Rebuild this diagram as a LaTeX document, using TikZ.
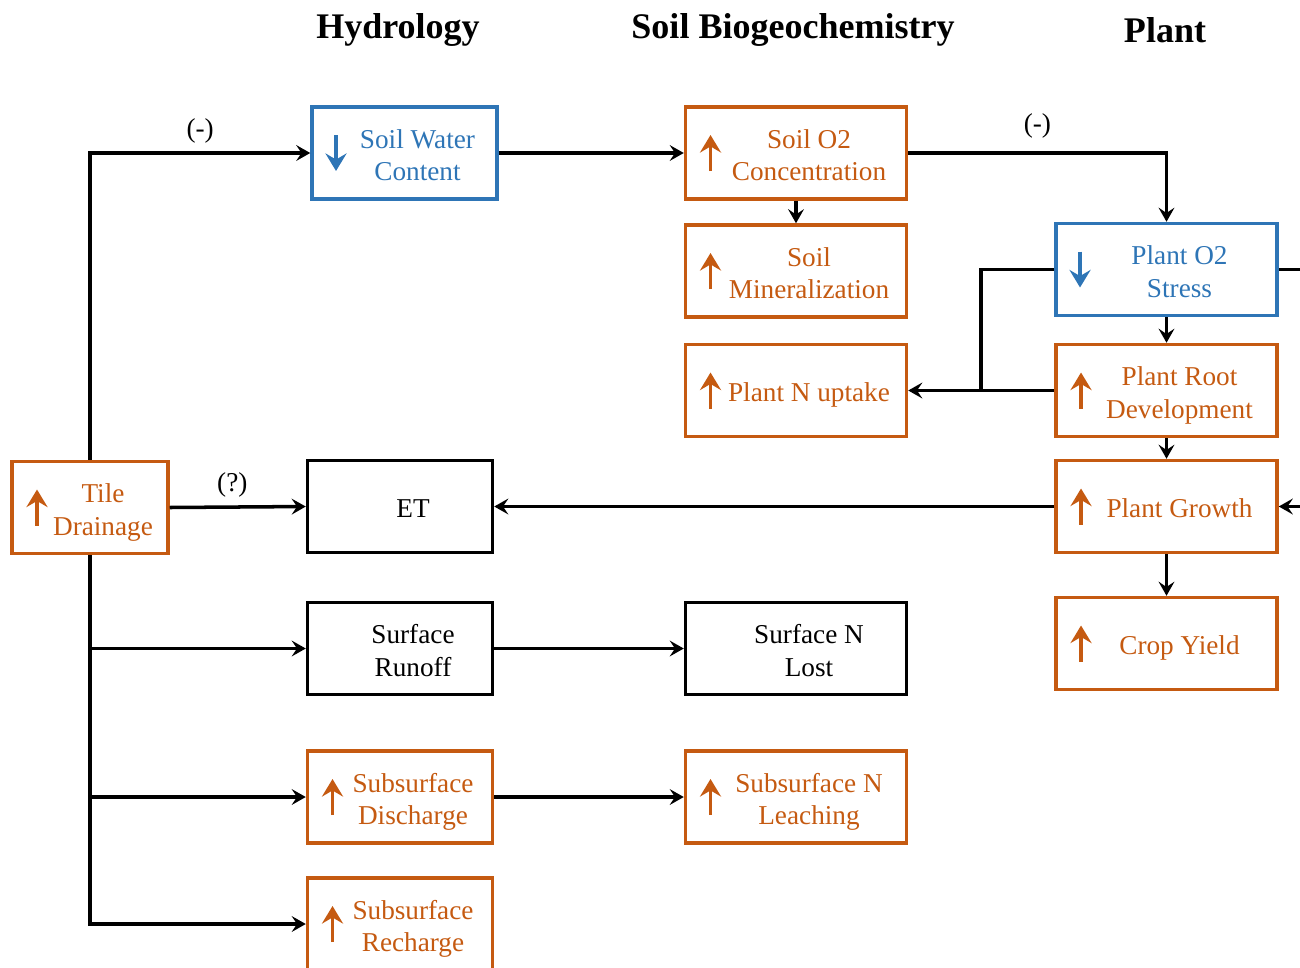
\documentclass[tikz,border=0pt]{standalone}
\usepackage{fontspec}
\setmainfont{Liberation Serif}
\usetikzlibrary{arrows.meta}
\definecolor{rust}{HTML}{C55A11}
\definecolor{steel}{HTML}{2E75B6}
\newcommand{\boxlabel}[1]{\raisebox{0pt}[\dimexpr\height+5.6pt\relax][\depth]{%
  \hspace*{0.52cm}\begin{tabular}{@{}c@{}}#1\end{tabular}}}

\begin{document}
\begin{tikzpicture}[x=0.02cm, y=-0.02cm,
  tip/.tip={Stealth[length=8pt, width=9pt, inset=3pt]},
  icontip/.tip={Stealth[length=10pt, width=12pt, inset=3.5pt]},
  head/.style={font=\fontsize{20.5}{24}\selectfont\bfseries},
  box/.style={draw, line width=2pt, minimum height=1.84cm, inner sep=0pt,
    font=\fontsize{15.5}{18.5}\selectfont},
  hyd/.style={box, minimum width=3.7cm},
  bgc/.style={box, minimum width=4.42cm},
  rise/.style={draw=rust, text=rust, path picture={
    \draw[rust, line width=2.2pt, -icontip]
      ([xshift=0.5cm, yshift=-0.36cm]path picture bounding box.west) -- ++(0,0.72cm);}},
  fall/.style={draw=steel, text=steel, path picture={
    \draw[steel, line width=2.2pt, -icontip]
      ([xshift=0.48cm, yshift=0.36cm]path picture bounding box.west) -- ++(0,-0.72cm);}},
  link/.style={line width=2pt},
  flow/.style={link, -tip},
  note/.style={font=\fontsize{15.5}{18.5}\selectfont}]
\useasboundingbox (0,0) rectangle (1300,967);

% column heads
\node[head] (hydro) at (398,30) {Hydrology};
\node[head] (soil) at (793,30) {Soil Biogeochemistry};
\node[head] (plant) at (1165,30) {Plant};

% hydrology
\node[box, rise, minimum width=3.12cm] (tile) at (90,507.5) {\boxlabel{Tile\\Drainage}};
\node[hyd, fall] (water) at (404.5,153) {\boxlabel{Soil Water\\Content}};
\node[hyd] (et) at (400,506.5) {\boxlabel{ET}};
\node[hyd] (runoff) at (400,648.5) {\boxlabel{Surface\\Runoff}};
\node[hyd, rise] (discharge) at (400,797) {\boxlabel{Subsurface\\Discharge}};
\node[hyd, rise] (recharge) at (400,924) {\boxlabel{Subsurface\\Recharge}};

% soil biogeochemistry
\node[bgc, rise] (oxygen) at (796,153) {\boxlabel{Soil O2\\Concentration}};
\node[bgc, rise] (mineral) at (796,271) {\boxlabel{Soil\\Mineralization}};
\node[bgc, rise] (uptake) at (796,390.5) {\boxlabel{Plant N uptake}};
\node[bgc] (nlost) at (796,648.5) {\boxlabel{Surface N\\Lost}};
\node[bgc, rise] (leach) at (796,797) {\boxlabel{Subsurface N\\Leaching}};

% plant
\node[bgc, fall] (stress) at (1166.5,269.5) {\boxlabel{Plant O2\\Stress}};
\node[bgc, rise] (root) at (1166.5,390.5) {\boxlabel{Plant Root\\Development}};
\node[bgc, rise] (growth) at (1166.5,506.5) {\boxlabel{Plant Growth}};
\node[bgc, rise] (yield) at (1166.5,643.5) {\boxlabel{Crop Yield}};

\coordinate (split) at (981,390.5);
\coordinate (rightout) at (1300,269.5);
\coordinate (rightin) at (1300,506.5);

% connectors
\draw[flow] (tile.north) |- (water.west) node[note, pos=0.75, above=1pt] {(-)};
\draw[flow] (water.east) -- (oxygen.west);
\draw[flow] (oxygen.east) -| (stress.north) node[note, pos=0.25, above=4pt] {(-)};
\draw[flow] (oxygen.south) -- (mineral.north);
\draw[link] (stress.west) -| (split);
\draw[flow] (root.west) -- (uptake.east);
\draw[flow] (stress.south) -- (root.north);
\draw[flow] (root.south) -- (growth.north);
\draw[flow] (growth.south) -- (yield.north);
\draw[flow] (growth.west) -- (et.east);
\draw[link] (stress.east) -- (rightout);
\draw[flow] (rightin) -- (growth.east);
\draw[flow] (tile.east) -- (et.west) node[note, pos=0.46, above=1pt] {(?)};
\draw[flow] (tile.south) |- (runoff.west);
\draw[flow] (tile.south) |- (discharge.west);
\draw[flow] (tile.south) |- (recharge.west);
\draw[flow] (runoff.east) -- (nlost.west);
\draw[flow] (discharge.east) -- (leach.west);
\end{tikzpicture}
\end{document}
